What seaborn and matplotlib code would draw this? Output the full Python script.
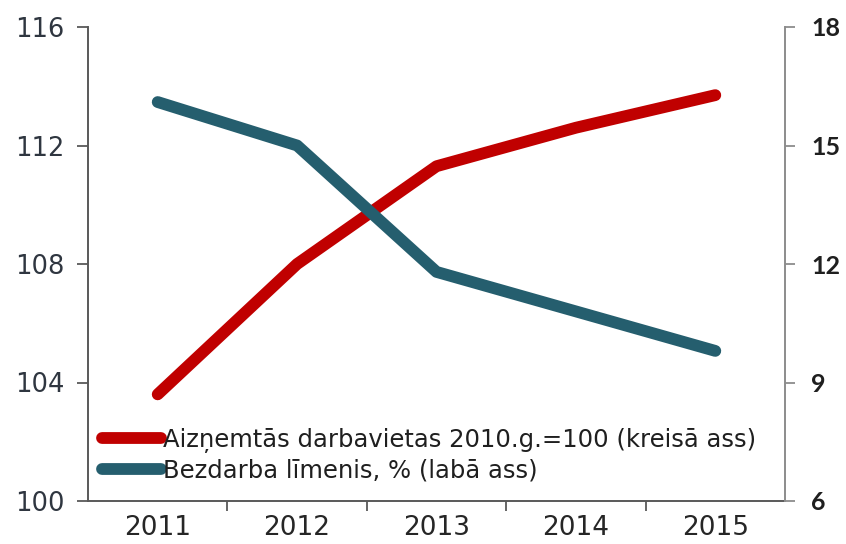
import matplotlib
matplotlib.use("Agg")
import matplotlib.pyplot as plt
import seaborn as sns
import pandas as pd
from matplotlib.ticker import FixedLocator

years = [2011, 2012, 2013, 2014, 2015]
employment = [103.6, 108.0, 111.3, 112.6, 113.7]
unemployment = [16.1, 15.0, 11.8, 10.8, 9.8]
left_ticks = [100, 104, 108, 112, 116]
right_ticks = [6, 9, 12, 15, 18]
label_emp = "Aizņemtās darbavietas 2010.g.=100 (kreisā ass)"
label_unemp = "Bezdarba līmenis, % (labā ass)"

sns.set_theme(style="white")
plt.rcParams['font.family'] = ['DejaVu Sans']

df = pd.DataFrame({"year": years, "emp": employment, "unemp": unemployment})

fig = plt.figure(figsize=(8.46, 5.44), dpi=100)
ax = fig.add_axes([88/846, 1 - 501/544, (785-88)/846, (501-27)/544])
ax2 = ax.twinx()

red = "#C00000"
teal = "#255E6E"

sns.lineplot(data=df, x="year", y="emp", ax=ax, color=red, lw=8.5,
             solid_capstyle="round", solid_joinstyle="round", label=label_emp, legend=False)
sns.lineplot(data=df, x="year", y="unemp", ax=ax2, color=teal, lw=8.5,
             solid_capstyle="round", solid_joinstyle="round", label=label_unemp, legend=False)

ax.set_xlim(2010.5, 2015.5)
ax.set_ylim(100, 116)
ax2.set_ylim(6, 18)
ax.set_yticks(left_ticks)
ax2.set_yticks(right_ticks)
ax.set_xticks(years)
ax.xaxis.set_minor_locator(FixedLocator([2011.5, 2012.5, 2013.5, 2014.5]))
ax.set_xticklabels([str(y) for y in years])
ax.set_xlabel("")
ax.set_ylabel("")
ax2.set_ylabel("")

for a in (ax, ax2):
    a.spines["top"].set_visible(False)
ax.spines["left"].set_color("#595959")
ax.spines["bottom"].set_color("#595959")
ax.spines["right"].set_visible(False)
ax2.spines["left"].set_visible(False)
ax2.spines["bottom"].set_visible(False)
ax2.spines["right"].set_color("#8c8c8c")
for s in ("left", "bottom"):
    ax.spines[s].set_linewidth(1.4)
ax2.spines["right"].set_linewidth(1.4)

ax.tick_params(axis="y", which="major", direction="out", length=8, width=1.3,
               color="#595959", labelsize=18.5, labelcolor="#2f3640", pad=9, left=True)
ax.tick_params(axis="x", which="major", length=0, labelsize=19, labelcolor="#262626", pad=10)
ax.tick_params(axis="x", which="minor", direction="out", length=7, width=1.3,
               color="#595959", bottom=True)
ax2.tick_params(axis="y", direction="out", length=7, width=1.3, color="#8c8c8c",
                labelsize=18, labelcolor="#1f1f1f", pad=12, right=True)
for lbl in ax2.get_yticklabels():
    lbl.set_fontfamily(["Lato", "DejaVu Sans"])
    lbl.set_fontweight("bold")

h1, l1 = ax.get_legend_handles_labels()
h2, l2 = ax2.get_legend_handles_labels()
leg = ax2.legend(h1 + h2, l1 + l2, loc="lower left", bbox_to_anchor=(0.02, 0.038),
                 frameon=False, fontsize=17.5, handlelength=2.45, handletextpad=0.05,
                 labelspacing=0.25, borderaxespad=0, borderpad=0)
for t in leg.get_texts():
    t.set_color("#1f1f1f")

fig.savefig("out.png", dpi=100)
